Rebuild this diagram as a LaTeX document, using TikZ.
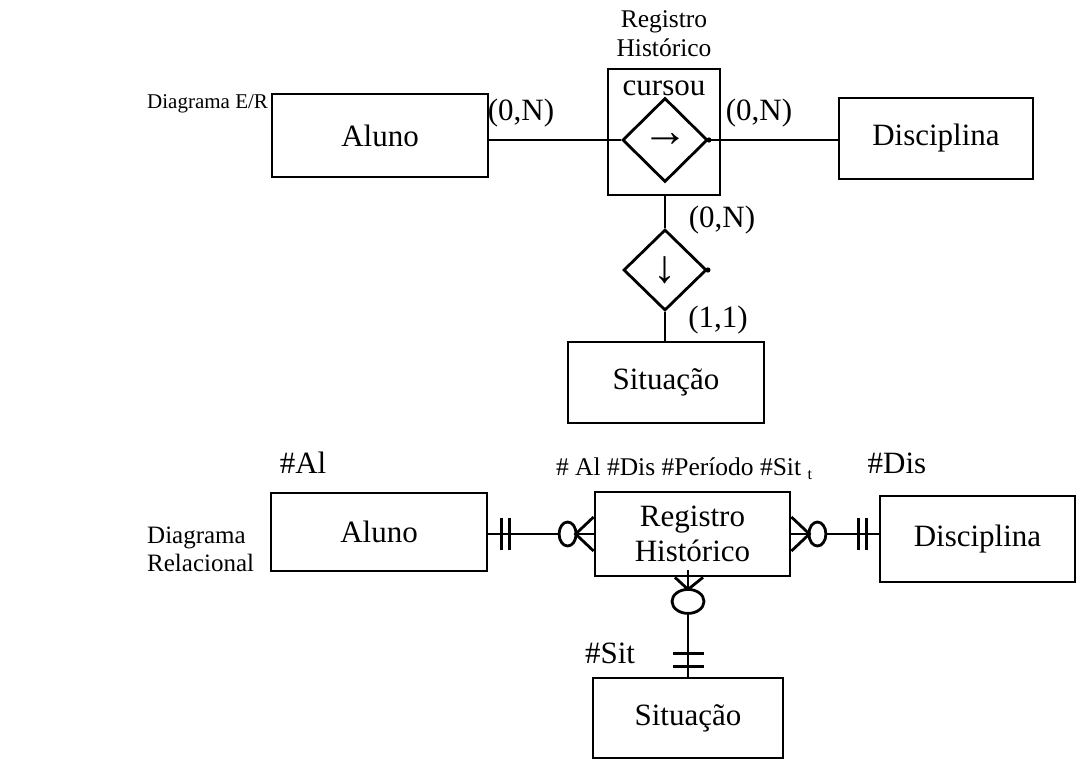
\documentclass[tikz,border=0pt]{standalone}
\usepackage{fontspec}
\setmainfont{Liberation Serif}
\usetikzlibrary{shapes.geometric}
\newcommand\bigf{\fontsize{31}{36}\selectfont}
\newcommand\smallf{\fontsize{25.5}{29}\selectfont}
\newcommand\lblf{\fontsize{25}{28}\selectfont}
\newcommand\lblsf{\fontsize{21}{26}\selectfont}
\newcommand\arrf{\fontsize{46}{46}\selectfont}
\tikzset{
  ent/.style={draw, line width=2.8pt, inner sep=0pt, font=\bigf},
  rel/.style={draw, diamond, line width=2.8pt, inner sep=0pt, font=\arrf},
  conn/.style={line width=2.8pt},
  txt/.style={inner sep=0pt, font=\bigf},
  stxt/.style={inner sep=0pt, font=\smallf},
  ltxt/.style={inner sep=0pt, font=\lblf, align=left, anchor=west},
}
\begin{document}
\begin{tikzpicture}[x=1pt,y=-1pt]
\useasboundingbox (0,0) rectangle (1089,760);

% ---------- E/R diagram ----------
\node[ltxt, font=\lblsf] (t1) at (147,104) {Diagrama E/R};
\node[ent, minimum width=216pt, minimum height=83pt] (a1) at (380,135.5) {Aluno};
\node[ent, minimum width=194pt, minimum height=81pt] (d1) at (936,138.5) {Disciplina};
\node[ent, minimum width=112pt, minimum height=126pt] (sq) at (664,132) {};
\node[txt] (cur) at (664,88) {cursou};
\node[stxt, align=center] (rhlab) at (664,34) {Registro\\Histórico};
\node[rel, minimum width=85pt, minimum height=84pt] (r1) at (665,140) {→};
\node[rel, minimum width=83pt, minimum height=81pt] (r2) at (665,270) {↓};
\node[ent, minimum width=196pt, minimum height=81pt] (s1) at (666,382.5) {Situação};

\draw[conn] (a1.east |- r1.west) -- (r1.west);
\draw[conn] (r1.east) -- (r1.east -| d1.west);
\fill (r1.east) circle (2.6pt);
\draw[conn] (sq.south -| r2.north) -- (r2.north);
\draw[conn] (r2.south) -- (r2.south |- s1.north);
\fill (r2.east) circle (2.6pt);

\node[txt] (c1) at (521,113) {(0,N)};
\node[txt] (c2) at (759,113) {(0,N)};
\node[txt] (c3) at (722,220) {(0,N)};
\node[txt] (c4) at (718,320) {(1,1)};

% ---------- Relational diagram ----------
\node[ltxt] (t2) at (147,549) {Diagrama\\Relacional};
\node[ent, minimum width=216pt, minimum height=78pt] (a2) at (379,532) {Aluno};
\node[ent, minimum width=195pt, minimum height=84pt, align=center] (rh2) at (692.5,534) {Registro\\[-1pt]Histórico};
\node[ent, minimum width=195pt, minimum height=86pt] (d2) at (977.5,539) {Disciplina};
\node[ent, minimum width=190pt, minimum height=80pt] (s2) at (688,718) {Situação};

\node[txt] (k1) at (303,463) {\#Al};
\node[txt] (k2) at (897,463) {\#Dis};
\node[txt] (k3) at (610,653) {\#Sit};
\node[stxt] (k4) at (684,469) {\# Al \#Dis \#Período \#Sit {\fontsize{16}{18}\selectfont\raisebox{-4pt}{t}}};

% left connector Aluno -- Registro
\coordinate (L0) at (a2.east |- rh2.west);
\draw[conn] (L0) -- (rh2.west);
\draw[conn] ([xshift=13pt,yshift=-16pt]L0) -- ([xshift=13pt,yshift=16pt]L0);
\draw[conn] ([xshift=21pt,yshift=-16pt]L0) -- ([xshift=21pt,yshift=16pt]L0);
\draw[conn, fill=white] ([xshift=-26pt]rh2.west) ellipse (8.5pt and 12pt);
\draw[conn] ([yshift=-17pt]rh2.west) -- ([xshift=-18pt]rh2.west) -- ([yshift=17pt]rh2.west);

% right connector Registro -- Disciplina
\coordinate (R0) at (rh2.east -| d2.west);
\draw[conn] (rh2.east) -- (R0);
\draw[conn] ([xshift=-20pt,yshift=-16pt]R0) -- ([xshift=-20pt,yshift=16pt]R0);
\draw[conn] ([xshift=-12pt,yshift=-16pt]R0) -- ([xshift=-12pt,yshift=16pt]R0);
\draw[conn, fill=white] ([xshift=26pt]rh2.east) ellipse (8.5pt and 12pt);
\draw[conn] ([yshift=-17pt]rh2.east) -- ([xshift=18pt]rh2.east) -- ([yshift=17pt]rh2.east);

% bottom connector Registro -- Situacao (canvas y points up: negative yshift = down)
\coordinate (B0) at (s2.north |- rh2.south);
\draw[conn] ([yshift=7pt]B0) -- ([yshift=-12pt]B0);
\draw[conn] ([xshift=-13pt]B0) -- ([yshift=-12pt]B0) -- ([xshift=15pt]B0);
\draw[conn, fill=white] ([yshift=-24pt]B0) ellipse (16pt and 12pt);
\draw[conn] ([yshift=-36pt]B0) -- (s2.north);
\draw[conn] ([xshift=-15pt,yshift=23pt]s2.north) -- ([xshift=16pt,yshift=23pt]s2.north);
\draw[conn] ([xshift=-15pt,yshift=10pt]s2.north) -- ([xshift=16pt,yshift=10pt]s2.north);
\end{tikzpicture}
\end{document}
